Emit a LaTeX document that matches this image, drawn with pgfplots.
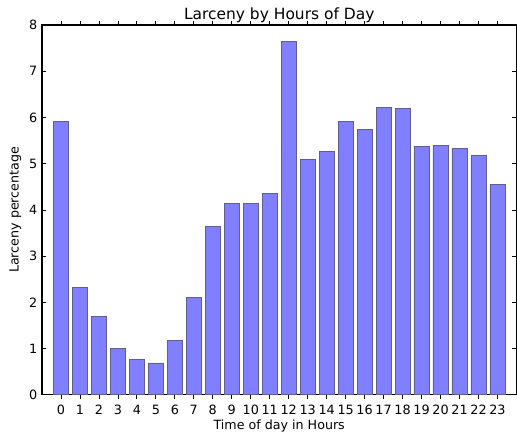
\documentclass[border=0pt]{standalone}
\usepackage{pgfplots}
\pgfplotsset{compat=1.18}
\usepackage{fontspec}
\setmainfont{DejaVu Sans}
\definecolor{barfill}{HTML}{7F7FFF}
\definecolor{baredge}{HTML}{5F5F8F}

\begin{document}
\begin{tikzpicture}
\begin{axis}[
    scale only axis,
    width=356pt, height=277.5pt,
    xmin=-1, xmax=24, ymin=0, ymax=8,
    xtick={0,...,23}, ytick={0,...,8},
    tick align=inside, tick pos=both,
    major tick length=3pt,
    axis line style={line width=0.8pt},
    tick style={line width=0.6pt, black},
    /pgf/number format/assume math mode=true,
    ticklabel style={font=\fontsize{9.6}{11}\selectfont},
    xticklabel style={yshift=-1pt},
    title={Larceny by Hours of Day},
    title style={font=\fontsize{11.6}{13}\selectfont, yshift=-7.5pt},
    xlabel={Time of day in Hours},
    ylabel={Larceny percentage},
    label style={font=\fontsize{9.5}{11}\selectfont},
    xlabel style={yshift=3pt},
    ylabel style={yshift=-1pt},
    ybar, bar width=0.8, bar shift=0pt,
]
\addplot[fill=barfill, draw=baredge, line width=0.6pt] coordinates {
(0,5.91) (1,2.33) (2,1.70) (3,1.00) (4,0.76) (5,0.68) (6,1.18) (7,2.10)
(8,3.65) (9,4.14) (10,4.14) (11,4.36) (12,7.65) (13,5.10) (14,5.26) (15,5.92)
(16,5.74) (17,6.21) (18,6.20) (19,5.38) (20,5.40) (21,5.33) (22,5.17) (23,4.56)
};
\coordinate (sw) at (rel axis cs:0,0);
\coordinate (ne) at (rel axis cs:1,1);
\end{axis}
\pgfresetboundingbox
\path (sw) ++(-31.5pt,-31.5pt) coordinate (a);
\path (ne) ++(0.4pt,18.75pt) coordinate (b);
\useasboundingbox (a) rectangle (b);
\end{tikzpicture}
\end{document}
